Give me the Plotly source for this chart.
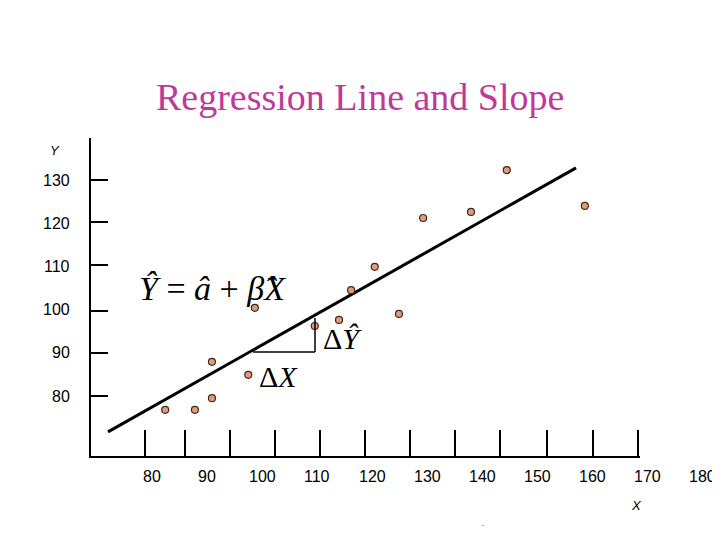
import plotly.graph_objects as go

x_vals = [82.4, 87.8, 90.9, 90.9, 97.5, 98.7, 109.6, 114.0, 116.2, 120.5, 124.9, 129.3, 138.0, 144.5, 158.7]
y_vals = [76.8, 76.8, 79.5, 87.9, 84.9, 100.4, 96.2, 97.6, 104.5, 109.9, 99.0, 121.2, 122.6, 132.3, 124.0]
line_x = [72.0, 157.1]
line_y = [71.7, 132.8]
x_ticks = [80, 90, 100, 110, 120, 130, 140, 150, 160, 170, 180]
y_ticks = [80, 90, 100, 110, 120, 130]

W, H = 720, 540
OFF = 8  # page margin offset
X0 = 80 - (152 - OFF) / 5.5
X1 = X0 + W / 5.5
Y1 = 130 + (180 - OFF) / 4.32
Y0 = Y1 - H / 4.32

fig = go.Figure()
fig.add_trace(go.Scatter(x=line_x, y=line_y, mode="lines",
                         line=dict(color="black", width=3), hoverinfo="skip"))
fig.add_trace(go.Scatter(x=x_vals, y=y_vals, mode="markers",
                         marker=dict(size=7, color="#e89a78", line=dict(color="#3a2a20", width=1.2))))

def px(p): return (p - OFF) / W
def py(p): return 1 - (p - OFF) / H

shapes = []
shapes.append(dict(type="line", xref="paper", yref="paper", x0=px(90), x1=px(90), y0=py(138), y1=py(458), line=dict(color="black", width=2)))
shapes.append(dict(type="line", xref="paper", yref="paper", x0=px(90), x1=px(640), y0=py(457), y1=py(457), line=dict(color="black", width=2)))
for yy in [180, 222, 265, 311, 353, 396]:
    shapes.append(dict(type="line", xref="paper", yref="paper", x0=px(90), x1=px(108), y0=py(yy), y1=py(yy), line=dict(color="black", width=2)))
for xx in [145, 185, 230, 275, 320, 365, 410, 455, 500, 547, 593, 638]:
    shapes.append(dict(type="line", xref="paper", yref="paper", x0=px(xx), x1=px(xx), y0=py(430), y1=py(457), line=dict(color="black", width=2)))
shapes.append(dict(type="line", xref="paper", yref="paper", x0=px(253), x1=px(315), y0=py(352), y1=py(352), line=dict(color="black", width=1.5)))
shapes.append(dict(type="line", xref="paper", yref="paper", x0=px(315), x1=px(315), y0=py(352), y1=py(318), line=dict(color="black", width=1.5)))

C = dict(showarrow=False, xanchor="center", yanchor="middle")
ann = []
for v in x_ticks:
    ann.append(dict(x=v, y=Y1 - (476 - OFF) / 4.32, xref="x", yref="y", text=str(v), **C,
                    font=dict(size=16, family="Arial, Liberation Sans", color="black")))
for v in y_ticks:
    ann.append(dict(x=px(72), y=v, xref="paper", yref="y", text=str(v), showarrow=False,
                    xanchor="right", yanchor="middle",
                    font=dict(size=16, family="Arial, Liberation Sans", color="black")))
ann.append(dict(x=px(55), y=py(150), xref="paper", yref="paper", text="<i>Y</i>", **C,
                font=dict(size=13, family="Arial, Liberation Sans", color="black")))
ann.append(dict(x=px(636), y=py(505), xref="paper", yref="paper", text="<i>X</i>", **C,
                font=dict(size=13, family="Arial, Liberation Sans", color="black")))
ann.append(dict(x=px(360), y=py(97), xref="paper", yref="paper", text="Regression Line and Slope", **C,
                font=dict(size=38, family="Liberation Serif, Times New Roman", color="#c0399a")))
ann.append(dict(x=px(212), y=py(288), xref="paper", yref="paper",
                text="<i>Ŷ</i> = <i>â</i> + <i>β̂X</i>", **C,
                font=dict(size=34, family="Liberation Serif, Times New Roman", color="black")))
ann.append(dict(x=px(342), y=py(338), xref="paper", yref="paper", text="Δ<i>Ŷ</i>", **C,
                font=dict(size=30, family="Liberation Serif, Times New Roman", color="black")))
ann.append(dict(x=px(278), y=py(376), xref="paper", yref="paper", text="Δ<i>X</i>", **C,
                font=dict(size=30, family="Liberation Serif, Times New Roman", color="black")))
ann.append(dict(x=px(483), y=py(522), xref="paper", yref="paper", text=".", **C,
                font=dict(size=8, color="black")))

fig.update_layout(width=W, height=H, margin=dict(l=0, r=0, t=0, b=0),
                  paper_bgcolor="white", plot_bgcolor="white", showlegend=False,
                  xaxis=dict(range=[X0, X1], visible=False),
                  yaxis=dict(range=[Y0, Y1], visible=False),
                  shapes=shapes, annotations=ann)
fig.write_html("out.html")
